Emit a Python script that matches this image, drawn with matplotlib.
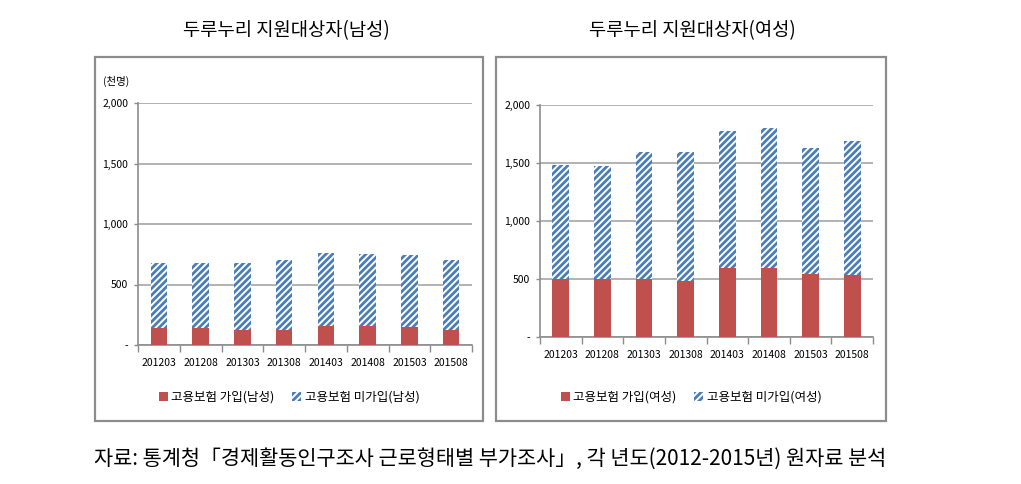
import numpy as np
import matplotlib
matplotlib.use("Agg")
from matplotlib import pyplot as plt
from matplotlib.patches import Rectangle, Patch

plt.rcParams['font.family'] = ['Noto Sans CJK KR', 'DejaVu Sans']
plt.rcParams['hatch.linewidth'] = 2.0

periods = ['201203', '201208', '201303', '201308', '201403', '201408', '201503', '201508']
# 천명
male_ins = [137, 137, 124, 124, 157, 157, 146, 124]
male_total = [681, 681, 681, 700, 764, 750, 742, 700]
female_ins = [500, 500, 500, 479, 596, 596, 544, 533]
female_total = [1481, 1473, 1593, 1593, 1777, 1799, 1628, 1690]

male_unins = [t - i for t, i in zip(male_total, male_ins)]
female_unins = [t - i for t, i in zip(female_total, female_ins)]

yticks = [0, 500, 1000, 1500, 2000]
ytick_labels = ['-', '500', '1,000', '1,500', '2,000']

red = '#C0504D'
blue = '#4A7EBB'
grey = '#8c8c8c'
hatch = '/////'

fig = plt.figure(figsize=(10.21, 4.84), dpi=100)

# panel frames
for x0, x1 in [(94.7, 483), (496, 886)]:
    fig.patches.append(Rectangle((x0 / 1021, 1 - 421 / 484), (x1 - x0) / 1021, (421 - 57) / 484,
                                 transform=fig.transFigure, fill=False, edgecolor=grey, linewidth=1.6))


def draw(ax, ins, unins, sex):
    x = np.arange(len(periods))
    ax.bar(x, ins, width=0.4, color=red, linewidth=0, zorder=3)
    ax.bar(x, unins, width=0.4, bottom=ins, color='white', edgecolor=blue, hatch=hatch,
           linewidth=0, zorder=3)
    ax.set_xlim(-0.5, len(periods) - 0.5)
    ax.set_ylim(0, 2000)
    ax.set_yticks(yticks)
    ax.set_yticklabels(ytick_labels, fontsize=7.5)
    ax.yaxis.grid(True, color='#a6a6a6', linewidth=1.2, zorder=0)
    ax.set_xticks(np.arange(len(periods) + 1) - 0.5)
    ax.set_xticklabels([])
    ax.set_xticks(x, minor=True)
    ax.set_xticklabels(periods, minor=True, fontsize=7.5)
    ax.tick_params(axis='x', which='major', length=5, color=grey, width=1)
    ax.tick_params(axis='x', which='minor', length=0, pad=9)
    ax.tick_params(axis='y', length=3, color=grey, width=1, pad=4)
    for s in ['top', 'right']:
        ax.spines[s].set_visible(False)
    for s in ['left', 'bottom']:
        ax.spines[s].set_color(grey)
        ax.spines[s].set_linewidth(1.2)
    handles = [Patch(facecolor=red, edgecolor='none', label='고용보험 가입(%s)' % sex),
               Patch(facecolor='white', edgecolor=blue, hatch=hatch, linewidth=0,
                     label='고용보험 미가입(%s)' % sex)]
    return handles


ax1 = fig.add_axes([138 / 1021, 1 - 345 / 484, 334 / 1021, 242 / 484])
h1 = draw(ax1, male_ins, male_unins, '남성')
ax2 = fig.add_axes([540 / 1021, 1 - 337 / 484, 333 / 1021, 232 / 484])
h2 = draw(ax2, female_ins, female_unins, '여성')

for h, cx in [(h1, 289), (h2, 691)]:
    fig.legend(handles=h, loc='center', bbox_to_anchor=(cx / 1021, 1 - 397 / 484), ncol=2,
               frameon=False, fontsize=9, handlelength=0.7, handleheight=0.7,
               handletextpad=0.3, columnspacing=1.4)

fig.text(103 / 1021, 1 - 81 / 484, '(천명)', fontsize=7.5, va='center', ha='left')

fig.text(286 / 1021, 1 - 31 / 484, '두루누리 지원대상자(남성)', fontsize=13.5, ha='center', va='center')
fig.text(692 / 1021, 1 - 31 / 484, '두루누리 지원대상자(여성)', fontsize=13.5, ha='center', va='center')

fig.text(490 / 1021, 1 - 459 / 484,
         '자료: 통계청「경제활동인구조사 근로형태별 부가조사」, 각 년도(2012-2015년) 원자료 분석',
         fontsize=15, ha='center', va='center')

fig.savefig('out.png', dpi=100)
